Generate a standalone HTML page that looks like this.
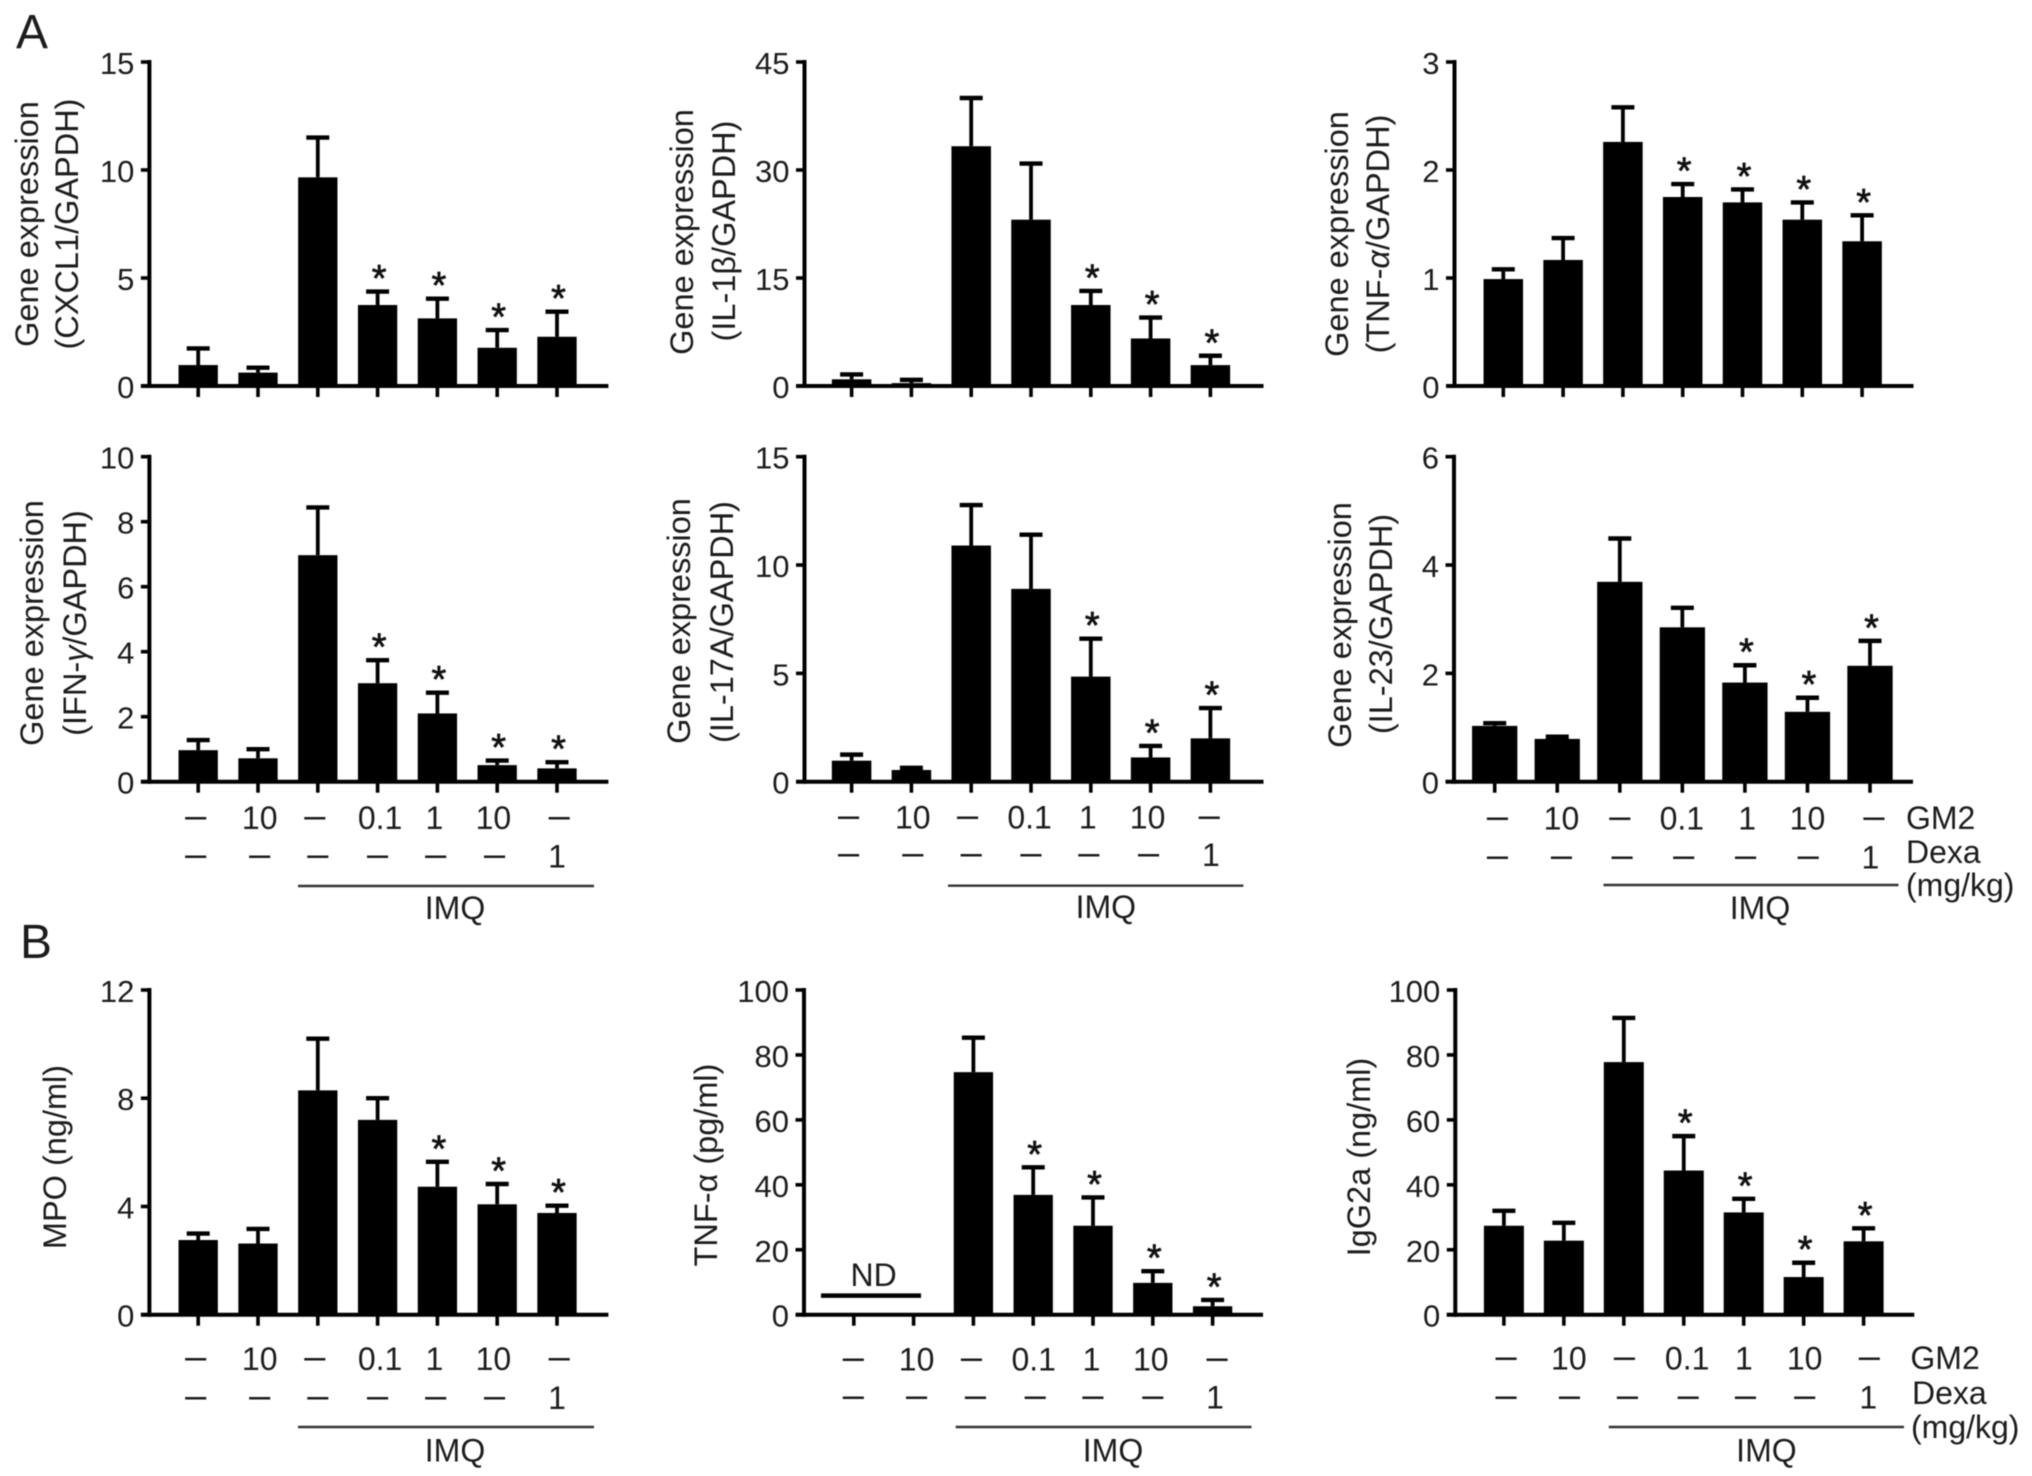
<!DOCTYPE html>
<html lang="en">
<head>
<meta charset="utf-8">
<title>Gene expression and protein levels bar charts</title>
<style>
html,body{margin:0;padding:0;background:#fff;}
svg{display:block;font-family:"Liberation Sans",Arial,sans-serif;fill:#1c1c1c;filter:blur(0.45px);}
.ttl{font-size:32.5px;text-anchor:middle;}
.big{font-size:48px;}
.lbl{font-size:32px;text-anchor:middle;}
.side{font-size:32px;text-anchor:start;}
</style>
</head>
<body>
<svg id="fig" xmlns="http://www.w3.org/2000/svg" width="2032" height="1476" viewBox="0 0 2032 1476">
  <rect x="0" y="0" width="2032" height="1476" fill="#fff"/>
  <text class="big" x="16" y="48">A</text>
  <text class="big" x="20" y="958">B</text>

  <text class="ttl" transform="translate(38,224) rotate(-90)">Gene expression</text>
  <text class="ttl" transform="translate(78,224) rotate(-90)">(CXCL1/GAPDH)</text>
  <text class="ttl" transform="translate(693,232) rotate(-90)">Gene expression</text>
  <text class="ttl" transform="translate(735,231) rotate(-90)">(IL-1β/GAPDH)</text>
  <text class="ttl" transform="translate(1348,234) rotate(-90)">Gene expression</text>
  <text class="ttl" transform="translate(1389,234) rotate(-90)">(TNF-<tspan font-style="italic">α</tspan>/GAPDH)</text>
  <text class="ttl" transform="translate(43,623) rotate(-90)">Gene expression</text>
  <text class="ttl" transform="translate(86,623) rotate(-90)">(IFN-<tspan font-style="italic">γ</tspan>/GAPDH)</text>
  <text class="ttl" transform="translate(690,621) rotate(-90)">Gene expression</text>
  <text class="ttl" transform="translate(733,622) rotate(-90)">(IL-17A/GAPDH)</text>
  <text class="ttl" transform="translate(1351,625) rotate(-90)">Gene expression</text>
  <text class="ttl" transform="translate(1392,624) rotate(-90)">(IL-23/GAPDH)</text>
  <text class="ttl" transform="translate(66,1157) rotate(-90)">MPO (ng/ml)</text>
  <text class="ttl" transform="translate(717,1165) rotate(-90)">TNF-α (pg/ml)</text>
  <text class="ttl" transform="translate(1370,1157) rotate(-90)">IgG2a (ng/ml)</text>

  <text class="lbl" x="455" y="919">IMQ</text>
  <text class="lbl" x="1105.8" y="918">IMQ</text>
  <text class="lbl" x="1760" y="919">IMQ</text>
  <text class="lbl" x="455" y="1461.5">IMQ</text>
  <text class="lbl" x="1113" y="1461.5">IMQ</text>
  <text class="lbl" x="1766.4" y="1461.5">IMQ</text>

  <text class="side" x="1906" y="829">GM2</text>
  <text class="side" x="1906" y="863">Dexa</text>
  <text class="side" x="1906" y="896">(mg/kg)</text>
  <text class="side" x="1910.4" y="1369">GM2</text>
  <text class="side" x="1912" y="1404">Dexa</text>
  <text class="side" x="1911" y="1438">(mg/kg)</text>

  <text class="lbl" x="873.6" y="1286">ND</text>
  <line x1="821" y1="1295.6" x2="921" y2="1295.6" stroke="#000" stroke-width="4.5"/>
</svg>
<script>
// Doses printed below the charts
const gm2Doses = ['–', '10', '–', '0.1', '1', '10', '–'];
const dexaDoses = ['–', '–', '–', '–', '–', '–', '1'];

// Panel A, top row
const cxcl1Ticks = [0, 5, 10, 15];
const cxcl1Means = [0.97, 0.62, 9.66, 3.75, 3.13, 1.77, 2.28];
const cxcl1Upper = [1.74, 0.85, 11.5, 4.37, 4.04, 2.59, 3.44];
const cxcl1Stars = [0, 0, 0, 1, 1, 1, 1];

const il1bTicks = [0, 15, 30, 45];
const il1bMeans = [0.93, 0.4, 33.3, 23.1, 11.25, 6.6, 2.9];
const il1bUpper = [1.6, 0.85, 40, 30.9, 13.2, 9.5, 4.2];
const il1bStars = [0, 0, 0, 0, 1, 1, 1];

const tnfaTicks = [0, 1, 2, 3];
const tnfaMeans = [0.99, 1.167, 2.26, 1.75, 1.7, 1.54, 1.34];
const tnfaUpper = [1.08, 1.37, 2.58, 1.87, 1.82, 1.7, 1.58];
const tnfaStars = [0, 0, 0, 1, 1, 1, 1];

// Panel A, bottom row
const ifngTicks = [0, 2, 4, 6, 8, 10];
const ifngMeans = [0.97, 0.72, 6.97, 3.03, 2.1, 0.51, 0.41];
const ifngUpper = [1.28, 1.0, 8.44, 3.74, 2.74, 0.65, 0.6];
const ifngStars = [0, 0, 0, 1, 1, 1, 1];

const il17aTicks = [0, 5, 10, 15];
const il17aMeans = [0.97, 0.54, 10.9, 8.9, 4.85, 1.12, 2.0];
const il17aUpper = [1.25, 0.64, 12.77, 11.4, 6.6, 1.65, 3.4];
const il17aStars = [0, 0, 0, 0, 1, 1, 1];

const il23Ticks = [0, 2, 4, 6];
const il23Means = [1.03, 0.79, 3.69, 2.85, 1.83, 1.29, 2.14];
const il23Upper = [1.08, 0.83, 4.49, 3.21, 2.15, 1.55, 2.6];
const il23Stars = [0, 0, 0, 0, 1, 1, 1];

// Panel B
const mpoTicks = [0, 4, 8, 12];
const mpoMeans = [2.76, 2.63, 8.29, 7.2, 4.73, 4.08, 3.76];
const mpoUpper = [3.0, 3.17, 10.2, 8.0, 5.65, 4.83, 4.03];
const mpoStars = [0, 0, 0, 0, 1, 1, 1];

const tnfProteinTicks = [0, 20, 40, 60, 80, 100];
const tnfProteinMeans = [null, null, 74.7, 36.9, 27.4, 9.8, 2.6];
const tnfProteinUpper = [null, null, 85.3, 45.4, 36.1, 13.4, 4.55];
const tnfProteinStars = [0, 0, 0, 1, 1, 1, 1];

const igg2aTicks = [0, 20, 40, 60, 80, 100];
const igg2aMeans = [27.4, 22.8, 77.8, 44.4, 31.5, 11.6, 22.6];
const igg2aUpper = [32, 28.3, 91.4, 55, 35.7, 16, 26.6];
const igg2aStars = [0, 0, 0, 1, 1, 1, 1];

const SVG_NS = 'http://www.w3.org/2000/svg';
const fig = document.getElementById('fig');

function make(tag, attrs, parent) {
  const node = document.createElementNS(SVG_NS, tag);
  for (const k in attrs) node.setAttribute(k, attrs[k]);
  parent.appendChild(node);
  return node;
}

function drawPanel(p) {
  const g = make('g', {}, fig);
  
  

  const yMax = p.ticks[p.ticks.length - 1];
  const yScale = v => p.zero - (v / yMax) * (p.zero - p.top);
  const xScale = i => p.x0 + i * p.step;

  p.means.forEach((mean, i) => {
    const cx = xScale(i);
    if (mean !== null) {
      const upper = p.upper[i];
      const stem = make('line', {x1: cx, x2: cx, y1: yScale(mean), y2: yScale(upper), stroke: '#000', 'stroke-width': 3.8}, g);
      
      
      const cap = make('line', {x1: cx - 11.5, x2: cx + 11.5, y1: yScale(upper), y2: yScale(upper), stroke: '#000', 'stroke-width': 4.4}, g);
      
      
      const bar = make('rect', {x: cx - p.barW / 2, y: yScale(mean), width: p.barW, height: p.zero - yScale(mean), fill: '#000'}, g);
      
      
      if (p.stars[i]) {
        const star = make('text', {x: cx + 1.5, y: yScale(upper) - 0.5, 'text-anchor': 'middle', 'font-size': 38, fill: '#111', stroke: '#111', 'stroke-width': 0.7}, g);
        star.textContent = '*';
        
        
      }
    }
    const tick = make('line', {x1: cx, x2: cx, y1: p.zero, y2: p.zero + 11, stroke: '#000', 'stroke-width': 3.6}, g);
    
    
  });

  const yAxis = make('line', {x1: p.axisX, x2: p.axisX, y1: p.top - 2, y2: p.zero + 2, stroke: '#000', 'stroke-width': 4}, g);
  
  
  const xAxis = make('line', {x1: p.axisX - 8.5, x2: p.axisX + 459, y1: p.zero, y2: p.zero, stroke: '#000', 'stroke-width': 4}, g);
  
  

  p.ticks.forEach(t => {
    const y = yScale(t);
    const tk = make('line', {x1: p.axisX - 8.5, x2: p.axisX, y1: y, y2: y, stroke: '#000', 'stroke-width': 3.6}, g);
    
    
    const lab = make('text', {x: p.axisX - 15, y: y + 12, 'text-anchor': 'end', 'font-size': 31}, g);
    lab.textContent = String(t);
    
    
  });

  if (p.rowY) {
    const doseRow = (doses, cy, shifts, rowName) => {
      doses.forEach((d, i) => {
        const isDash = d === '–';
        const t = make('text', {x: xScale(i) + shifts[i], y: cy + (isDash ? 10.5 : 11.5), 'text-anchor': 'middle', 'font-size': isDash ? 38 : 32}, g);
        t.textContent = d;
        
        
      });
    };
    doseRow(gm2Doses, p.rowY[0], p.shift1, 'gm2-dose-label');
    doseRow(dexaDoses, p.rowY[1], p.shift2, 'dexa-dose-label');
    const bracket = make('line', {x1: p.line[0], x2: p.line[1], y1: p.line[2], y2: p.line[2], stroke: '#333', 'stroke-width': 2.4}, g);
    
    
  }
}

const leftShift1 = [-2.5, 1.7, -3, 2.5, -3, -3.8, 2.2];
const leftShift2 = [-2.5, 1.7, 0, 0, -1.7, -2.6, 0];

drawPanel({id: 'cxcl1', ticks: cxcl1Ticks, means: cxcl1Means, upper: cxcl1Upper, stars: cxcl1Stars,
  axisX: 149.4, top: 62, zero: 386, x0: 198.2, step: 59.8, barW: 39.3});
drawPanel({id: 'il1b', ticks: il1bTicks, means: il1bMeans, upper: il1bUpper, stars: il1bStars,
  axisX: 804.5, top: 62, zero: 386, x0: 851.6, step: 59.8, barW: 39.5});
drawPanel({id: 'tnfa', ticks: tnfaTicks, means: tnfaMeans, upper: tnfaUpper, stars: tnfaStars,
  axisX: 1454.5, top: 62, zero: 386, x0: 1503.3, step: 59.8, barW: 39.5});

drawPanel({id: 'ifng', ticks: ifngTicks, means: ifngMeans, upper: ifngUpper, stars: ifngStars,
  axisX: 149.4, top: 456.7, zero: 781.7, x0: 198.2, step: 59.8, barW: 39.3,
  rowY: [817.5, 856], shift1: leftShift1, shift2: leftShift2, line: [298, 594, 886]});
drawPanel({id: 'il17a', ticks: il17aTicks, means: il17aMeans, upper: il17aUpper, stars: il17aStars,
  axisX: 804.5, top: 456.7, zero: 781.7, x0: 851.6, step: 59.8, barW: 39.5,
  rowY: [817, 854.5], shift1: [-3, 1.4, -3.6, -1.4, -3, -3, -1.2], shift2: [-3, 1.4, 0, 0, -2, -2, 0.5], line: [948, 1243.4, 885.7]});
drawPanel({id: 'il23', ticks: il23Ticks, means: il23Means, upper: il23Upper, stars: il23Stars,
  axisX: 1454, top: 456.7, zero: 781.7, x0: 1494.7, step: 62.55, barW: 45.3,
  rowY: [818, 857], shift1: [2.8, 4.2, 0, -0.5, 2.3, 0, 4], shift2: [2.8, 4.2, 2.3, 1.3, 0.7, 0.8, 0.4], line: [1603.5, 1898.5, 885]});

drawPanel({id: 'mpo', ticks: mpoTicks, means: mpoMeans, upper: mpoUpper, stars: mpoStars,
  axisX: 149.4, top: 990, zero: 1314.7, x0: 198.2, step: 59.8, barW: 39.3,
  rowY: [1358.7, 1397.4], shift1: leftShift1, shift2: leftShift2, line: [298, 594, 1427]});
drawPanel({id: 'tnfa-protein', ticks: tnfProteinTicks, means: tnfProteinMeans, upper: tnfProteinUpper, stars: tnfProteinStars,
  axisX: 804, top: 990, zero: 1314.7, x0: 853.8, step: 59.8, barW: 39.3,
  rowY: [1359, 1397], shift1: [-0.5, 3, -2, 0.5, -1.5, -2, 4.5], shift2: [-0.5, 3, 2, 2, 0, 0, 2.4], line: [955.7, 1251.5, 1427]});
drawPanel({id: 'igg2a', ticks: igg2aTicks, means: igg2aMeans, upper: igg2aUpper, stars: igg2aStars,
  axisX: 1455.3, top: 990, zero: 1314.7, x0: 1503.9, step: 59.95, barW: 40,
  rowY: [1358, 1397], shift1: [2.2, 5, 0.7, 3.4, 0.2, 1, 5.7], shift2: [2.2, 5.6, 3.7, 4.4, 1.8, 1, 4.7], line: [1608.8, 1904, 1427]});
</script>
</body>
</html>
